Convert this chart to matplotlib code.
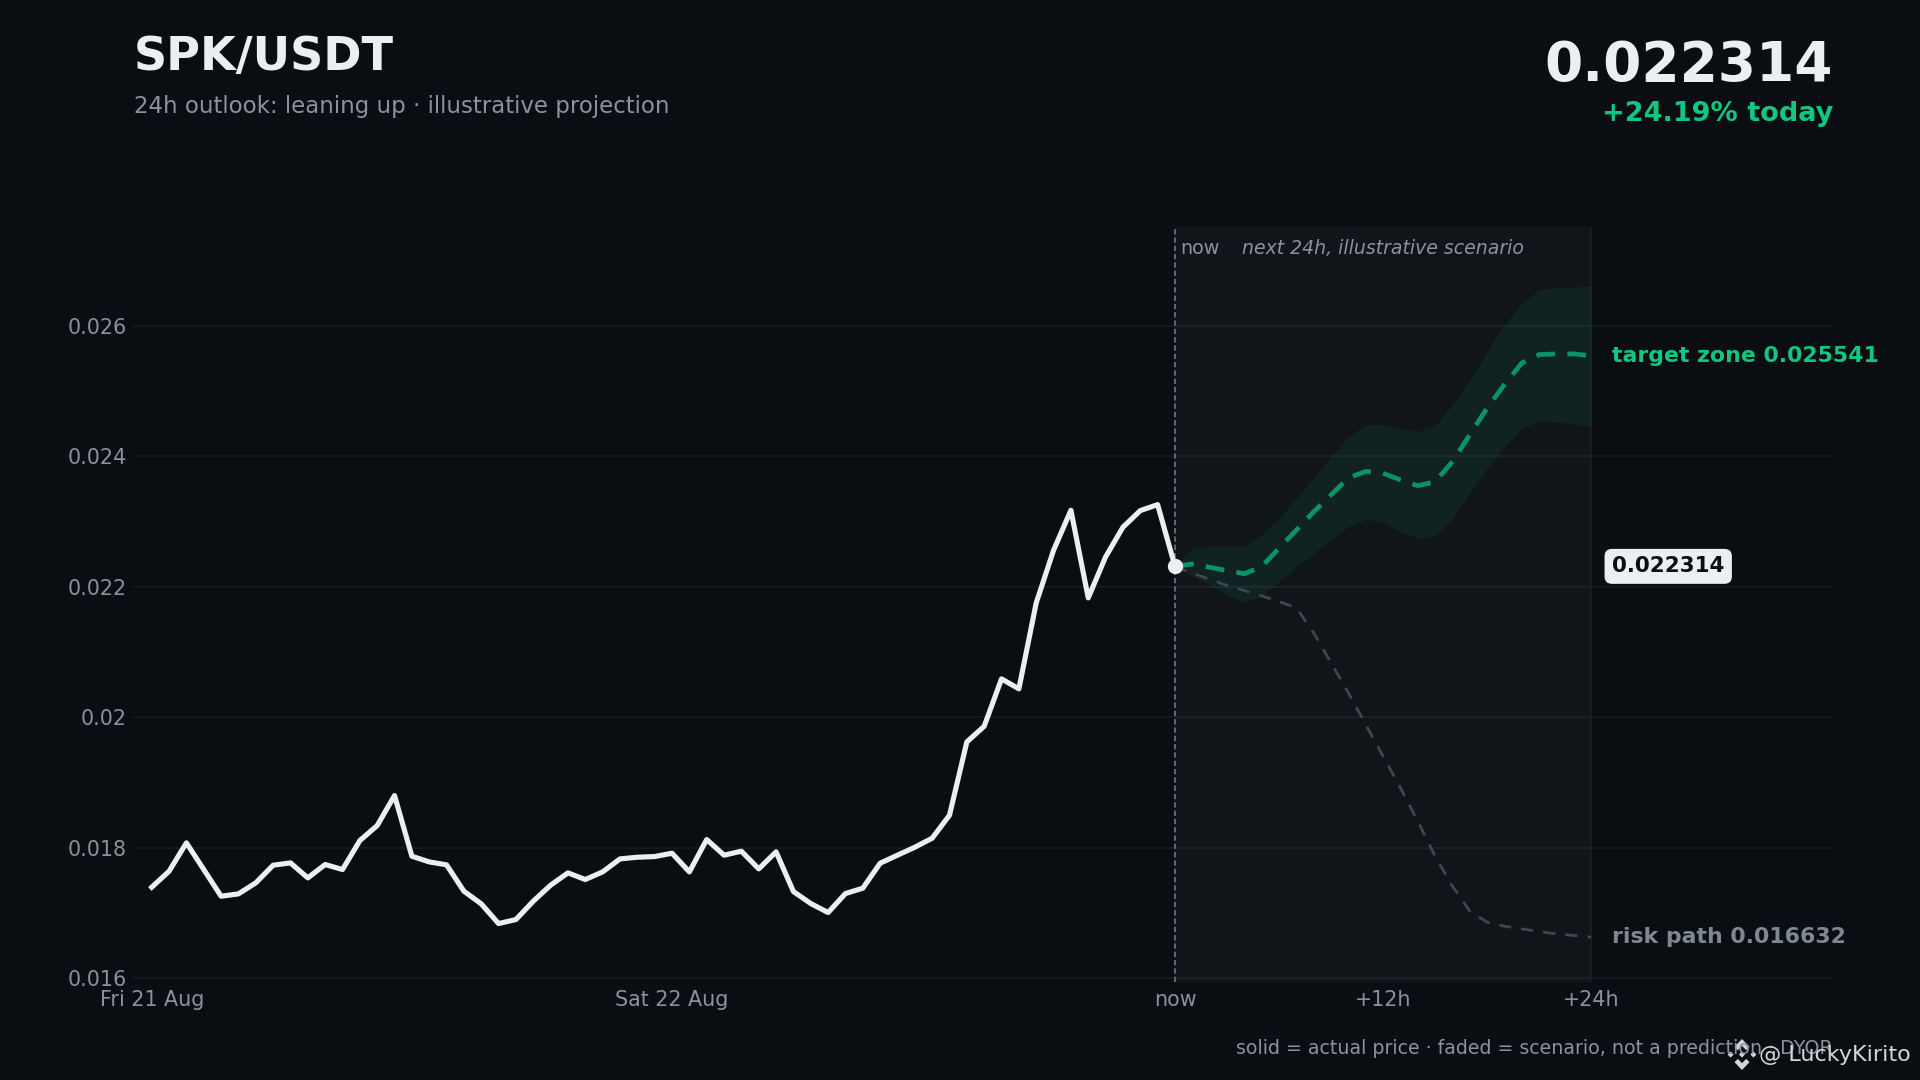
import matplotlib
matplotlib.use('Agg')
import matplotlib.pyplot as plt
from matplotlib.patches import Polygon

# price, one point per hour
price = [0.017397, 0.017642, 0.018077, 0.017668, 0.017259, 0.017295, 0.017464, 0.017734,
         0.017770, 0.017540, 0.017745, 0.017668, 0.018112, 0.018342, 0.018802, 0.017872,
         0.017785, 0.017740, 0.017336, 0.017142, 0.016840, 0.016902, 0.017183, 0.017428,
         0.017617, 0.017515, 0.017632, 0.017831, 0.017857, 0.017867, 0.017918, 0.017632,
         0.018128, 0.017888, 0.017949, 0.017678, 0.017939, 0.017331, 0.017147, 0.017009,
         0.017300, 0.017382, 0.017765, 0.017888, 0.018010, 0.018148, 0.018501, 0.019624,
         0.019864, 0.020590, 0.020437, 0.021754, 0.022561, 0.023174, 0.021831, 0.022459,
         0.022914, 0.023169, 0.023260, 0.022314]

# scenario series, hours after now
target_mid = [0.022314, 0.022350, 0.022300, 0.022250, 0.022200, 0.022310, 0.022590, 0.022870,
              0.023150, 0.023410, 0.023670, 0.023770, 0.023740, 0.023640, 0.023550, 0.023610,
              0.023920, 0.024330, 0.024740, 0.025100, 0.025430, 0.025560, 0.025570, 0.025570,
              0.025541]
target_high = [0.022314, 0.022593, 0.022618, 0.022618, 0.022628, 0.022797, 0.023052, 0.023359,
               0.023665, 0.023997, 0.024304, 0.024483, 0.024483, 0.024421, 0.024380, 0.024467,
               0.024789, 0.025172, 0.025606, 0.026015, 0.026347, 0.026551, 0.026587, 0.026592,
               0.026613]
target_low = [0.022314, 0.022158, 0.022031, 0.021877, 0.021765, 0.021852, 0.022082, 0.022312,
              0.022516, 0.022720, 0.022925, 0.023037, 0.022991, 0.022848, 0.022746, 0.022771,
              0.023052, 0.023435, 0.023818, 0.024150, 0.024431, 0.024544, 0.024528, 0.024498,
              0.024472]
risk_path = [0.022314, 0.022209, 0.022117, 0.022020, 0.021943, 0.021862, 0.021775, 0.021678,
             0.021295, 0.020835, 0.020375, 0.019890, 0.019405, 0.018919, 0.018409, 0.017872,
             0.017413, 0.017030, 0.016861, 0.016800, 0.016759, 0.016718, 0.016682, 0.016657,
             0.016632]

y_ticks = [0.016, 0.018, 0.020, 0.022, 0.024, 0.026]
y_labels = ['0.016', '0.018', '0.02', '0.022', '0.024', '0.026']
x_ticks = [0, 30, 59, 71, 83]
x_labels = ['Fri 21 Aug', 'Sat 22 Aug', 'now', '+12h', '+24h']

bg = '#0a0e12'
white = '#eceef2'
grey = '#8b929b'
green = '#10c682'

W, H = 1920, 1080
fig = plt.figure(figsize=(19.2, 10.8), dpi=100, facecolor=bg)
ax = fig.add_axes([133 / W, 1 - 982.3 / H, (1834 - 133) / W, (982.3 - 227.3) / H], facecolor=bg)

now = len(price) - 1
hours = list(range(now, now + 25))

ax.set_xlim(-1.08, 97)
ax.set_ylim(0.01594, 0.02751)
ax.set_yticks(y_ticks, y_labels)
ax.set_xticks(x_ticks, x_labels)
ax.tick_params(length=0, labelsize=14.9, labelcolor=grey, pad=5.5)
ax.tick_params(axis='y', pad=4.5)
ax.grid(axis='y', color='#171c21', linewidth=1.2)
ax.set_axisbelow(True)
for s in ax.spines.values():
    s.set_visible(False)

ax.axvspan(now, now + 24, color='#ffffff', alpha=0.03, linewidth=0, zorder=1)
ax.axvline(now + 24, color='#1a1f23', linewidth=1.2, zorder=1)
ax.axvline(now, color='#6a6f75', linewidth=1.3, dashes=(3, 1.6), zorder=2)

ax.fill_between(hours, target_low, target_high, color=green, alpha=0.08, linewidth=0, zorder=2)
ax.plot(hours, risk_path, color='#41464c', linewidth=2.0, dashes=(4.4, 3.6), zorder=3)
ax.plot(hours, target_mid, color='#0a9366', linewidth=3.4, dashes=(4, 2.6), zorder=4)
ax.plot(price, color=white, linewidth=3.7, solid_joinstyle='round', zorder=5)
ax.plot(now, price[-1], 'o', color=white, markersize=11, markeredgewidth=0, zorder=6)

ax.annotate('now', (now, 0.02751), xytext=(4, -19.5), textcoords='offset points',
            color=grey, fontsize=13.8)
ax.annotate('next 24h, illustrative scenario', (now, 0.02751), xytext=(48.3, -19.5),
            textcoords='offset points', color=grey, fontsize=13.6, style='italic')

# labels right of the scenario window
ax.annotate(f'target zone {target_mid[-1]:.6f}', (now + 24, target_mid[-1]), xytext=(15, 0),
            textcoords='offset points', color=green, fontsize=15.85, fontweight='bold', va='center')
ax.annotate(f'risk path {risk_path[-1]:.6f}', (now + 24, risk_path[-1]), xytext=(15, 0),
            textcoords='offset points', color='#7f8791', fontsize=15.85, fontweight='bold', va='center')
ax.annotate(f'{price[-1]:.6f}', (now + 24, price[-1]), xytext=(15, 0),
            textcoords='offset points', color=bg, fontsize=15.4, fontweight='bold', va='center',
            bbox=dict(boxstyle='round,pad=0.35', facecolor=white, edgecolor='none'))

# header
fig.text(134 / W, 1 - 57.5 / H, 'SPK/USDT', color=white, fontsize=33.2, fontweight='bold', va='center')
fig.text(134 / W, 1 - 106 / H, '24h outlook: leaning up · illustrative projection', color=grey,
         fontsize=16.5, va='center')
fig.text(1833 / W, 1 - 66.5 / H, '0.022314', color=white, fontsize=39.5, fontweight='bold', va='center', ha='right')
fig.text(1833 / W, 1 - 114 / H, '+24.19% today', color=green, fontsize=19.5, fontweight='bold', va='center', ha='right')
fig.text(1833 / W, 1 - 1048 / H, 'solid = actual price · faded = scenario, not a prediction · DYOR',
         color=grey, fontsize=13.7, va='center', ha='right')

# watermark
fig.text(1911 / W, 1 - 1055 / H, '@ LuckyKirito', color='#d3d5d9', fontsize=16, va='center', ha='right')
logo = fig.add_axes([1727 / W, 1 - 1070 / H, 30 / W, 31 / H])
logo.set_xlim(-1, 1)
logo.set_ylim(-1, 1)
logo.axis('off')
top = [(0, 1), (0.5, 0.5), (0.28, 0.28), (0, 0.56), (-0.28, 0.28), (-0.5, 0.5)]
logo.add_patch(Polygon(top, color='#d3d5d9', linewidth=0))
logo.add_patch(Polygon([(x, -y) for x, y in top], color='#d3d5d9', linewidth=0))
for cx, r in [(-0.76, 0.2), (0, 0.2), (0.76, 0.2)]:
    logo.add_patch(Polygon([(cx - r, 0), (cx, r), (cx + r, 0), (cx, -r)], color='#d3d5d9', linewidth=0))

fig.savefig('out.png', dpi=100, facecolor=bg)
